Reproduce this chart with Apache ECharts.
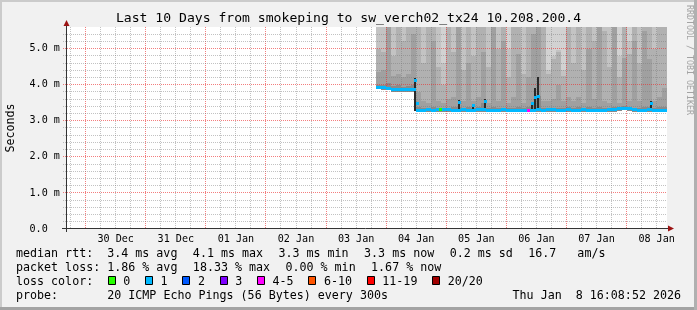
<!DOCTYPE html>
<html>
<head>
<meta charset="utf-8">
<title>smokeping</title>
<script src="https://cdn.jsdelivr.net/npm/echarts@6.0.0/dist/echarts.min.js"></script>
<style>
html,body{margin:0;padding:0;background:#f1f1f1;overflow:hidden}
#chart{width:697px;height:310px}
</style>
</head>
<body>
<div id="chart"></div>
<script>
// ================= DATA =================
const titleText = 'Last 10 Days from smokeping to sw_verch02_tx24 10.208.200.4';
// x values are hours since 2025-12-30 00:00
const timeStart = -7.852;   // Mon Dec 29 16:08:52 2025
const timeEnd = 232.148;    // Thu Jan  8 16:08:52 2026
const dayLabels = ['30 Dec','31 Dec','01 Jan','02 Jan','03 Jan','04 Jan','05 Jan','06 Jan','07 Jan','08 Jan'];
const dayLabelHours = [12,36,60,84,108,132,156,180,204,228];
const majorGridHours = [0,24,48,72,96,120,144,168,192,216];
const minorGridHours = [-6,6,12,18,30,36,42,54,60,66,78,84,90,102,108,114,126,132,138,150,156,162,174,180,186,198,204,210,222,228];
const yMax = 5.6;
const yTickValues = [0,1,2,3,4,5];
const yTickLabels = ['0.0','1.0 m','2.0 m','3.0 m','4.0 m','5.0 m'];
const yMinorGrid = [0.2,0.4,0.6,0.8,1.2,1.4,1.6,1.8,2.2,2.4,2.6,2.8,3.2,3.4,3.6,3.8,4.2,4.4,4.6,4.8,5.2,5.4];

// smoke columns (2 hour steps), values in ms
const smokeStart = [116,118,120,122,124,126,128,130,132,134,136,138,140,142,144,146,148,150,152,154,156,158,160,162,164,166,168,170,172,174,176,178,180,182,184,186,188,190,192,194,196,198,200,202,204,206,208,210,212,214,216,218,220,222,224,226,228,230];
const rttMin = [3.87,3.86,3.84,3.81,3.81,3.80,3.80,3.81,
  3.23,3.23,3.24,3.23,3.24,3.25,3.24,3.23,3.23,3.24,
  3.23,3.23,3.24,3.24,3.23,3.23,3.23,3.24,3.23,3.23,
  3.23,3.23,3.23,3.23,3.24,3.23,3.24,3.24,3.23,3.23,
  3.24,3.23,3.23,3.24,3.23,3.23,3.23,3.23,3.24,3.24,
  3.27,3.29,3.27,3.24,3.23,3.23,3.24,3.23,3.23,3.23];
const rttMedian = [3.93,3.92,3.90,3.87,3.87,3.86,3.86,3.87,
  3.29,3.29,3.30,3.29,3.30,3.31,3.30,3.29,3.29,3.30,
  3.29,3.29,3.30,3.30,3.29,3.29,3.29,3.30,3.29,3.29,
  3.29,3.29,3.29,3.29,3.30,3.29,3.30,3.30,3.29,3.29,
  3.30,3.29,3.29,3.30,3.29,3.29,3.29,3.29,3.30,3.30,
  3.33,3.35,3.33,3.30,3.29,3.29,3.30,3.29,3.29,3.29];
const rttP55 = [4.00,3.98,4.05,3.97,3.98,3.95,3.96,4.00,
  3.38,3.36,3.36,3.37,3.36,3.35,3.36,3.37,3.39,3.36,
  3.37,3.36,3.37,3.48,3.36,3.38,3.35,3.36,3.35,3.36,
  3.37,3.35,3.39,3.45,3.70,3.36,3.35,3.36,3.36,3.35,
  3.37,3.36,3.37,3.35,3.37,3.36,3.37,3.36,3.35,3.38,
  3.39,3.41,3.39,3.36,3.35,3.37,3.39,3.36,3.37,3.39];
const rttP65 = [4.35,4.40,6,4.25,4.30,4.20,4.30,5.40,
  3.80,3.55,3.50,5.20,3.55,3.48,3.60,3.65,6,3.55,
  4.60,3.55,3.65,4.90,3.50,6,3.55,5.20,3.48,3.65,
  4.85,3.48,4.20,5.40,6,3.55,3.55,3.60,4.00,3.55,
  3.65,3.55,3.65,3.50,5.00,3.60,6,3.55,3.50,6,
  3.50,4.75,3.55,5.20,3.55,5.50,4.70,3.55,3.65,3.90];
const rttP75 = [5.0,4.9,6,4.8,6,5.2,5.6,6,
  6,4.6,6,6,4.5,4.0,6,4.9,6,4.4,
  6,4.8,6,6,4.5,6,5.0,6,4.2,6,
  6,4.3,6,6,6,6,4.3,4.7,4.9,4.25,
  6,4.6,6,4.4,6,5.2,6,5.5,4.5,6,
  4.2,6,4.85,6,4.6,6,6,5.0,6,6];
const rttP85 = [6,6,6,6,6,6,6,6,
  6,6,6,6,6,4.6,6,6,6,6,
  6,6,6,6,6,6,6,6,5.0,6,
  6,6,6,6,6,6,4.4,4.8,4.95,4.4,
  6,6,6,6,6,6,6,6,6,6,
  4.8,6,5.2,6,6,6,6,6,6,6];
const rttMax = [6,6,6,6,6,6,6,6,
  6,6,6,6,6,6,6,6,6,6,
  6,6,6,6,6,6,6,6,6,6,
  6,6,6,6,6,6,6,6,6,6,
  6,6,6,6,6,6,6,6,6,6,
  6,6,6,6,6,6,6,6,6,6];
const medianLoss = [1,1,1,1,1,1,1,1,
  1,1,1,1,1,1,1,1,1,1,
  1,1,1,1,1,1,1,1,1,1,
  1,1,1,1,1,1,1,1,1,1,
  1,1,1,1,1,1,1,1,1,1,
  1,1,1,1,1,1,1,1,1,1];

// narrow dense smoke spikes
const spikeHour = [131.4,149.2,154.6,159.3,178.2,179.6,180.5,225.7];
const spikeLow  = [3.26,3.26,3.26,3.26,3.26,3.26,3.26,3.26];
const spikeHigh = [4.18,3.58,3.46,3.60,3.52,3.92,4.20,3.55];
// short median segments (with loss class)
const markHour   = [131.4,132.3,149.2,154.6,159.3,178.2,179.6,180.5,225.7,141.6,176.6];
const markMedian = [4.13,3.47,3.51,3.41,3.53,3.47,3.64,3.66,3.48,3.31,3.29];
const markLoss   = [1,1,1,1,1,1,1,1,1,0,4];

const lossLabels = ['0','1','2','3','4-5','6-10','11-19','20/20'];
const lossColors = ['#26ff00','#00b8ff','#0059ff','#7e00ff','#ff00ff','#ff5500','#ff0000','#a10000'];
const rttStats = ['3.4 ms avg','4.1 ms max','3.3 ms min','3.3 ms now','0.2 ms sd','16.7   am/s'];
const lossStats = ['1.86 % avg','18.33 % max','0.00 % min','1.67 % now'];
const probeText = '20 ICMP Echo Pings (56 Bytes) every 300s';
const dateText = 'Thu Jan  8 16:08:52 2026';
const watermark = 'RRDTOOL / TOBI OETIKER';

// ================= STYLE / LAYOUT =================
const FONT = "'DejaVu Sans Mono', monospace";
const W = 697, H = 310;
const GL = 66, GT = 27, GR = 30, GB = 81;
const COL_HOURS = 2;
const SHADES = ['#d2d2d2','#c3c3c3','#b1b1b1','#a0a0a0','#8a8a8a'];
const AXIS_COLOR = '#333333', ARROW_COLOR = '#9c1414';
const LEG_FS = 11.66, CW = 7.02, GAP = 15.4;

// ================= BUILD =================
const smokeData = smokeStart.map((h, i) => [h, rttMin[i], rttMedian[i], rttP55[i], rttP65[i], rttP75[i], rttP85[i], rttMax[i]]);
const medianData = smokeStart.map((h, i) => [h, rttMedian[i], medianLoss[i]]);
const spikeData = spikeHour.map((h, i) => [h, spikeLow[i], spikeHigh[i]]);
const markData = markHour.map((h, i) => [h, markMedian[i], markLoss[i]]);
const gridData = [].concat(
  minorGridHours.map(h => [0, h]),
  majorGridHours.map(h => [1, h]),
  yMinorGrid.map(v => [2, v]),
  yTickValues.filter(v => v > 0).map(v => [3, v])
);

function clampY(cs, y) { return Math.max(cs.y, Math.min(cs.y + cs.height, y)); }

function smokeItem(params, api) {
  const cs = params.coordSys;
  const h = api.value(0);
  const x0 = Math.round(api.coord([h, 0])[0]);
  const x1 = Math.round(api.coord([h + COL_HOURS, 0])[0]);
  const yb = Math.round(clampY(cs, api.coord([h, api.value(1)])[1]));
  const children = [];
  [7, 6, 5, 4, 3].forEach((dim, k) => {
    const yt = Math.round(clampY(cs, api.coord([h, api.value(dim)])[1]));
    if (yb > yt) children.push({type: 'rect', shape: {x: x0, y: yt, width: x1 - x0, height: yb - yt}, style: {fill: SHADES[k]}});
  });
  return {type: 'group', children};
}
function medianItem(params, api) {
  const h = api.value(0);
  const x0 = Math.round(api.coord([h, 0])[0]);
  const x1 = Math.round(api.coord([h + COL_HOURS, 0])[0]);
  const y = api.coord([h, api.value(1)])[1];
  return {type: 'rect', shape: {x: x0, y: Math.round(y - 1.5), width: x1 - x0, height: 3}, style: {fill: lossColors[api.value(2)]}};
}
function spikeItem(params, api) {
  const cs = params.coordSys;
  const h = api.value(0);
  const x = Math.round(api.coord([h, 0])[0]);
  const yb = Math.round(clampY(cs, api.coord([h, api.value(1)])[1]));
  const yt = Math.round(clampY(cs, api.coord([h, api.value(2)])[1]));
  return {type: 'rect', shape: {x: x - 1, y: yt, width: 2, height: yb - yt}, style: {fill: '#2a2a2a'}};
}
function markItem(params, api) {
  const h = api.value(0);
  const p = api.coord([h, api.value(1)]);
  return {type: 'rect', shape: {x: Math.round(p[0]) - 1, y: Math.round(p[1] - 1.5), width: 3, height: 3}, style: {fill: lossColors[api.value(2)]}};
}
function gridItem(params, api) {
  const cs = params.coordSys;
  const kind = api.value(0), v = api.value(1);
  const major = kind === 1 || kind === 3;
  const stroke = major ? 'rgba(235,40,40,0.6)' : 'rgba(120,120,120,0.45)';
  if (kind < 2) {
    const x = Math.floor(api.coord([v, 0])[0]) + 0.5;
    return {type: 'line', shape: {x1: x, y1: cs.y, x2: x, y2: cs.y + cs.height}, style: {stroke, lineWidth: 1, lineDash: [1, 1]}};
  }
  const y = Math.floor(api.coord([0, v])[1]) + 0.5;
  return {type: 'line', shape: {x1: cs.x - 3, y1: y, x2: cs.x + cs.width, y2: y}, style: {stroke, lineWidth: 1, lineDash: [1, 1]}};
}

// ---- graphic decorations ----
const graphics = [];
function txt(t, x, y, extra) {
  graphics.push({type: 'text', x, y, silent: true,
    style: Object.assign({text: t, fill: '#000', fontFamily: FONT, fontSize: LEG_FS, verticalAlign: 'middle', align: 'left'}, extra || {})});
}
// frame
graphics.push({type: 'rect', shape: {x: 0, y: 0, width: W, height: 2}, style: {fill: '#cbcbcb'}, silent: true});
graphics.push({type: 'rect', shape: {x: 0, y: 0, width: 2, height: H}, style: {fill: '#cbcbcb'}, silent: true});
graphics.push({type: 'rect', shape: {x: 0, y: H - 3, width: W, height: 3}, style: {fill: '#a3a3a3'}, silent: true});
graphics.push({type: 'rect', shape: {x: W - 3, y: 0, width: 3, height: H}, style: {fill: '#b0b0b0'}, silent: true});
// title
txt(titleText, W / 2, 18.5, {fontSize: 13.1, align: 'center'});
// watermark
graphics.push({type: 'text', x: 689, y: 60, rotation: -Math.PI / 2, silent: true,
  style: {text: watermark, fill: '#a3a3a3', fontFamily: FONT, fontSize: 8.3, align: 'center', verticalAlign: 'middle'}});
// axes lines and arrows
const axY = H - GB - 0.5, axX = GL + 0.5;
graphics.push({type: 'line', z: 10, shape: {x1: GL - 4, y1: axY, x2: W - GR + 2, y2: axY}, style: {stroke: AXIS_COLOR, lineWidth: 1}, silent: true});
graphics.push({type: 'line', z: 10, shape: {x1: axX, y1: H - GB + 3, x2: axX, y2: GT - 2}, style: {stroke: AXIS_COLOR, lineWidth: 1}, silent: true});
graphics.push({type: 'polygon', z: 10, shape: {points: [[axX, GT - 7], [axX - 3, GT - 1], [axX + 3, GT - 1]]}, style: {fill: ARROW_COLOR}, silent: true});
graphics.push({type: 'polygon', z: 10, shape: {points: [[W - GR + 7, axY], [W - GR + 1, axY - 3], [W - GR + 1, axY + 3]]}, style: {fill: ARROW_COLOR}, silent: true});
// legend rows
function row(tokens, y) { let x = 16; tokens.forEach(t => { txt(t, x, y); x += t.length * CW + GAP; }); }
row(['median rtt:  ' + rttStats[0]].concat(rttStats.slice(1)), 254.3);
row(['packet loss: ' + lossStats[0]].concat(lossStats.slice(1)), 268.3);
txt('loss color:', 16, 281.7);
(function () {
  let x = 108.3;
  lossLabels.forEach((lab, i) => {
    graphics.push({type: 'rect', silent: true, shape: {x: Math.floor(x) + 0.5, y: 276.5, width: 7, height: 8},
      style: {fill: lossColors[i], stroke: '#000', lineWidth: 1}});
    txt(lab, x + 15, 281.7);
    x = x + 15 + lab.length * CW + 15.3;
  });
})();
txt('probe:', 16, 295.7);
txt(probeText, 16 + 13 * CW, 295.7);
txt(dateText, 681, 295.7, {align: 'right'});

// ================= CHART =================
const chart = echarts.init(document.getElementById('chart'), null, {renderer: 'canvas', width: W, height: H});
chart.setOption({
  animation: false,
  backgroundColor: '#f1f1f1',
  grid: {left: GL, top: GT, right: GR, bottom: GB, show: true, backgroundColor: '#ffffff', borderWidth: 0,
         containLabel: false, outerBoundsMode: 'none'},
  xAxis: {
    type: 'value', min: timeStart, max: timeEnd,
    axisLine: {show: false}, axisTick: {show: false}, splitLine: {show: false},
    axisLabel: {
      customValues: dayLabelHours,
      formatter: v => { const i = dayLabelHours.indexOf(Math.round(v)); return i >= 0 ? dayLabels[i] : ''; },
      color: '#000', fontFamily: FONT, fontSize: 10.1, margin: 5
    }
  },
  yAxis: {
    type: 'value', min: 0, max: yMax, interval: 1,
    name: 'Seconds', nameLocation: 'middle', nameGap: 49.2, nameRotate: 90,
    nameTextStyle: {color: '#000', fontFamily: FONT, fontSize: LEG_FS},
    axisLine: {show: false}, axisTick: {show: false}, splitLine: {show: false},
    axisLabel: {
      showMaxLabel: false,
      formatter: v => { const i = yTickValues.indexOf(v); return i >= 0 ? yTickLabels[i] : ''; },
      color: '#000', fontFamily: FONT, fontSize: 10.1, align: 'left', margin: 36.5
    }
  },
  series: [
    {type: 'custom', name: 'smoke', z: 1, silent: true, renderItem: smokeItem, data: smokeData, encode: {x: 0, y: 2}},
    {type: 'custom', name: 'grid', z: 2, silent: true, renderItem: gridItem, data: gridData, encode: {x: 1, y: 1}},
    {type: 'custom', name: 'spikes', z: 3, silent: true, renderItem: spikeItem, data: spikeData, encode: {x: 0, y: 2}},
    {type: 'custom', name: 'median', z: 4, silent: true, renderItem: medianItem, data: medianData, encode: {x: 0, y: 1}},
    {type: 'custom', name: 'marks', z: 5, silent: true, renderItem: markItem, data: markData, encode: {x: 0, y: 1}}
  ],
  graphic: {elements: graphics}
});
</script>
</body>
</html>
